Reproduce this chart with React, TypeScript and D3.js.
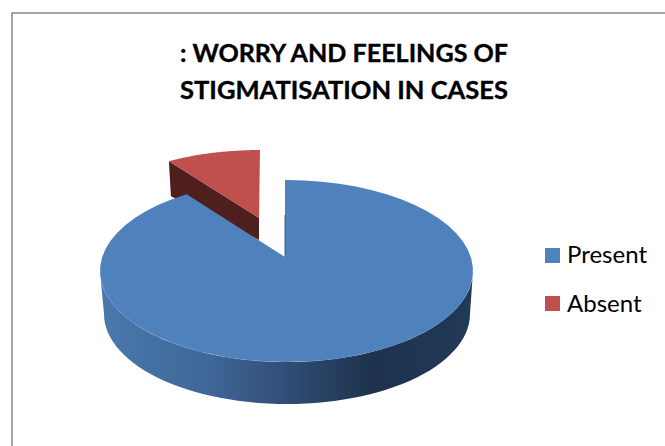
import React from "react";
import * as d3 from "d3";

const categories = ["Present", "Absent"];
const values = [91, 9];
const titleLines = [": WORRY AND FEELINGS OF", "STIGMATISATION IN CASES"];
const colors = ["#4f81bd", "#c0504d"];

const pieGen = d3.pie<number>().sort(null).startAngle(0).endAngle(2 * Math.PI);
const arcs = pieGen(values);

type G = { cx: number; cy: number; rx: number; ry: number; ax: number; ay: number };
const blueTop: G = { cx: 286.5, cy: 271, rx: 186.5, ry: 91, ax: 285, ay: 257 };
const redTop: G = { cx: 260, cy: 222, rx: 170, ry: 72, ax: 259, ay: 218 };

const pt = (g: G, a: number): [number, number] => [g.cx + g.rx * Math.sin(a), g.cy - g.ry * Math.cos(a)];
const line = d3.line();
const sweep = (g: G, a0: number, a1: number) => d3.range(0, 61).map((i) => pt(g, a0 + ((a1 - a0) * i) / 60));

const wedge = (g: G, a0: number, a1: number) => {
  const s = sweep(g, a0, a1);
  const lead: [number, number][] = a0 === 0 ? [[g.ax, g.ay], [g.ax, s[0][1]]] : [[g.ax, g.ay]];
  return line([...lead, ...s])! + "Z";
};

export default function App() {
  const blue = arcs[0];
  const red = arcs[1];
  const blueBottom: G = { ...blueTop, cx: 287, cy: 314, rx: 183, ry: 90 };
  const sideTop = sweep(blueTop, Math.PI / 2, (3 * Math.PI) / 2);
  const sideBottom = sweep(blueBottom, (3 * Math.PI) / 2, Math.PI / 2);
  const sidePath = line([...sideTop, ...sideBottom])! + "Z";
  const redA = pt(redTop, red.startAngle);
  const redInner: [number, number][] = [
    redA,
    [redTop.ax, redTop.ay],
    [redTop.ax, redTop.ay + 22],
    [redA[0] + 2, redA[1] + 35],
  ];
  return (
    <svg
      width={665}
      height={446}
      style={{ position: "absolute", left: 0, top: 0, display: "block" }}
      fontFamily="Lato, 'Open Sans', sans-serif"
    >
      <defs>
        <linearGradient id="side" gradientUnits="userSpaceOnUse" x1={100} x2={473} y1={0} y2={0}>
          <stop offset="0" stopColor="#4a79ae" />
          <stop offset="0.3" stopColor="#3f6697" />
          <stop offset="0.73" stopColor="#1e324d" />
          <stop offset="1" stopColor="#213a58" />
        </linearGradient>
      </defs>
      <rect x={12} y={13} width={680} height={460} fill="#fff" stroke="#868686" strokeWidth={1.5} />
      {titleLines.map((t, i) => (
        <text
          key={t}
          x={344}
          y={62 + i * 37}
          textAnchor="middle"
          fontSize={25.5}
          fontWeight={700}
          fill="#000"
          stroke="#000"
          strokeWidth={0.35}
          textLength={328}
          lengthAdjust="spacingAndGlyphs"
        >
          {t}
        </text>
      ))}
      <path d={line(redInner)! + "Z"} fill="#4e1f1d" />
      <path d={wedge(redTop, red.startAngle, red.endAngle)} fill={colors[1]} />
      <path d={sidePath} fill="url(#side)" />
      <path d={wedge(blueTop, blue.startAngle, blue.endAngle)} fill={colors[0]} />
      <line x1={285} y1={215} x2={285} y2={257} stroke="#3d638f" strokeWidth={1} />
      {categories.map((c, i) => (
        <g key={c}>
          <rect x={545} y={248 + i * 48} width={15} height={15} fill={colors[i]} />
          <text x={567} y={263 + i * 49} fontSize={24} fill="#000">
            {c}
          </text>
        </g>
      ))}
    </svg>
  );
}
